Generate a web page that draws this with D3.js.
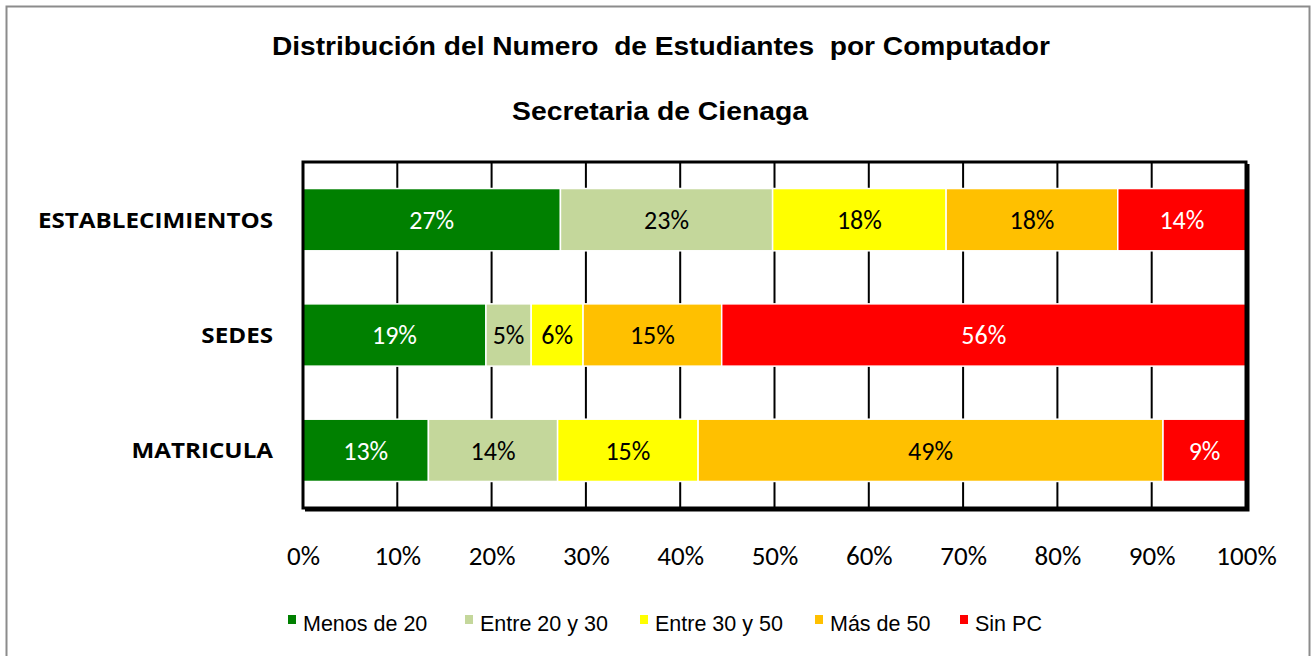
<!DOCTYPE html>
<html>
<head>
<meta charset="utf-8">
<script src="https://cdn.jsdelivr.net/npm/d3@7"></script>
<style>
  html, body { margin: 0; padding: 0; background: #fff; }
  svg { display: block; }
</style>
</head>
<body>
<div id="chart"></div>
<script>
const categories = ["ESTABLECIMIENTOS", "SEDES", "MATRICULA"];
const seriesNames = ["Menos de 20", "Entre 20 y 30", "Entre 30 y 50", "Más de 50", "Sin PC"];
const menos20 = [27.3, 19.4, 13.3];
const entre20y30 = [22.5, 4.8, 13.7];
const entre30y50 = [18.4, 5.5, 14.9];
const mas50 = [18.2, 14.7, 49.3];
const sinPC = [13.6, 55.6, 8.8];
const tickValues = [0, 0.1, 0.2, 0.3, 0.4, 0.5, 0.6, 0.7, 0.8, 0.9, 1];

const colors = ["#008000", "#C4D79B", "#FFFF00", "#FFC000", "#FF0000"];
const labelColors = ["#fff", "#000", "#000", "#000", "#fff"];

(function () {
  const width = 1313, height = 656;
  const plot = { left: 303, top: 162, right: 1246, bottom: 508 };
  const numFont = "Carlito, Lato, sans-serif";
  const arial = "Liberation Sans, Arial, sans-serif";

  const svg = d3.select("#chart").append("svg")
    .attr("width", width).attr("height", height);

  // outer chart border
  svg.append("rect")
    .attr("x", 6.5).attr("y", 6.5)
    .attr("width", 1303).attr("height", 660)
    .attr("fill", "#fff").attr("stroke", "#8c8c8c").attr("stroke-width", 2);

  svg.append("text")
    .attr("x", 661).attr("y", 55)
    .attr("text-anchor", "middle")
    .attr("font-family", arial)
    .attr("font-weight", "bold").attr("font-size", 25)
    .attr("textLength", 778).attr("lengthAdjust", "spacingAndGlyphs")
    .text("Distribución del Numero  de Estudiantes  por Computador")
    .style("white-space", "pre");

  svg.append("text")
    .attr("x", 660).attr("y", 120)
    .attr("text-anchor", "middle")
    .attr("font-family", arial)
    .attr("font-weight", "bold").attr("font-size", 25)
    .attr("textLength", 296).attr("lengthAdjust", "spacingAndGlyphs")
    .text("Secretaria de Cienaga");

  const x = d3.scaleLinear().domain([0, 1]).range([plot.left, plot.right]);
  const y = d3.scaleBand().domain(categories).range([plot.top, plot.bottom]).paddingInner(0.46).paddingOuter(0.23);

  const series = [menos20, entre20y30, entre30y50, mas50, sinPC];
  const rows = categories.map((c, i) => {
    const vals = series.map(s => s[i]);
    const total = d3.sum(vals);
    let acc = 0;
    return vals.map((v, k) => {
      const seg = { cat: c, k, v, x0: acc / total, x1: (acc + v) / total };
      acc += v;
      return seg;
    });
  }).flat();

  // shadow of plot area border
  svg.append("path")
    .attr("d", `M${plot.right + 2},${plot.top + 2} V${plot.bottom + 2} H${plot.left + 2}`)
    .attr("fill", "none").attr("stroke", "#000").attr("stroke-width", 3);

  // gridlines
  svg.append("g")
    .selectAll("line")
    .data(tickValues.slice(1, -1))
    .join("line")
    .attr("x1", d => x(d)).attr("x2", d => x(d))
    .attr("y1", plot.top).attr("y2", plot.bottom)
    .attr("stroke", "#000").attr("stroke-width", 2);

  // bars
  svg.append("g")
    .selectAll("rect")
    .data(rows)
    .join("rect")
    .attr("x", d => x(d.x0))
    .attr("y", d => y(d.cat))
    .attr("width", d => x(d.x1) - x(d.x0))
    .attr("height", y.bandwidth())
    .attr("fill", d => colors[d.k])
    .attr("stroke", "#fff").attr("stroke-width", 1.5);

  svg.append("g")
    .selectAll("text")
    .data(rows)
    .join("text")
    .attr("x", d => (x(d.x0) + x(d.x1)) / 2)
    .attr("y", d => y(d.cat) + y.bandwidth() / 2)
    .attr("dy", "0.36em")
    .attr("text-anchor", "middle")
    .attr("font-family", numFont)
    .attr("font-size", 26)
    .attr("fill", d => labelColors[d.k])
    .text(d => `${Math.round(d.v)}%`);

  // plot border
  svg.append("rect")
    .attr("x", plot.left).attr("y", plot.top)
    .attr("width", plot.right - plot.left).attr("height", plot.bottom - plot.top)
    .attr("fill", "none").attr("stroke", "#000").attr("stroke-width", 3);

  // x axis labels
  const xAxis = d3.axisBottom(x).tickValues(tickValues).tickFormat(d3.format(".0%")).tickSize(0).tickPadding(38);
  const gx = svg.append("g").attr("transform", `translate(0,${plot.bottom})`).call(xAxis);
  gx.select(".domain").remove();
  gx.selectAll("text")
    .attr("font-family", numFont)
    .attr("font-size", 27).attr("fill", "#000");

  // category labels (slightly widened like the original)
  svg.append("g")
    .selectAll("text")
    .data(categories)
    .join("text")
    .attr("transform", d => `translate(273,${y(d) + y.bandwidth() / 2}) scale(1.1,1)`)
    .attr("dy", "0.36em")
    .attr("text-anchor", "end")
    .attr("font-family", "Open Sans, sans-serif")
    .attr("font-weight", "bold").attr("font-size", 22)
    .text(d => d);

  // legend
  const legendX = [288, 465, 640, 815, 960];
  const legend = svg.append("g")
    .selectAll("g")
    .data(seriesNames)
    .join("g")
    .attr("transform", (d, i) => `translate(${legendX[i]},623)`);
  legend.append("rect")
    .attr("x", 0).attr("y", -8).attr("width", 8).attr("height", 9)
    .attr("fill", (d, i) => colors[i]);
  legend.append("text")
    .attr("x", 15).attr("dy", "0.36em")
    .attr("font-family", arial)
    .attr("font-size", 21.5)
    .text(d => d);
})();
</script>
</body>
</html>
